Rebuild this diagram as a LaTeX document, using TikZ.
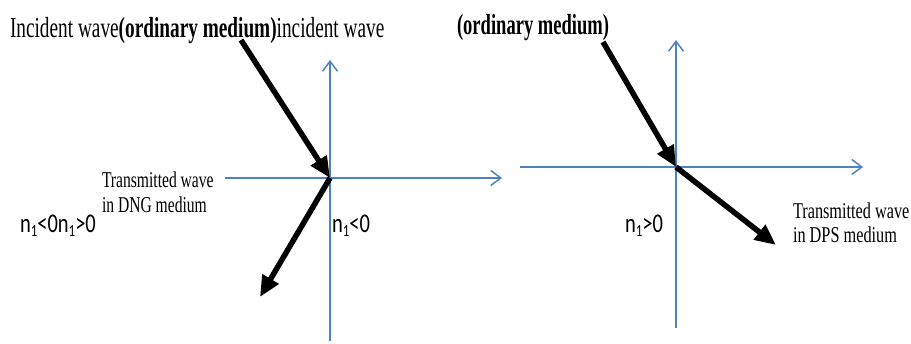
\documentclass[tikz,border=0pt]{standalone}
\usepackage{fontspec}
\setmainfont{Liberation Serif}
\newfontfamily\calib{Carlito}
\usetikzlibrary{arrows.meta}
\definecolor{axisblue}{HTML}{4F81BD}
\newcommand{\nsub}{n\raisebox{-0.18em}{\fontsize{17}{17}\selectfont 1}}
\tikzset{
  axisline/.style={draw=axisblue, line width=1.7pt, -{Straight Barb[length=10pt,width=15pt,line width=1.5pt]}},
  wave/.style={draw=black, line width=5.5pt, -{Triangle[length=21pt,width=18pt]}},
  lbl/.style={inner sep=0pt, outer sep=0pt, anchor=base west},
}
\begin{document}
\begin{tikzpicture}[x=1pt,y=-1pt]
\useasboundingbox (0,0) rectangle (911,343);
% left diagram
\coordinate (O1) at (330,178);
\coordinate (xl1) at (225,178);
\coordinate (xr1) at (502,178);
\coordinate (yb1) at (330,341);
\coordinate (yt1) at (330,60);
\coordinate (inc1) at (241,40);
\coordinate (tr1) at (260,297);
\draw[axisline] (xl1) -- (xr1);
\draw[axisline] (yb1) -- (yt1);
\draw[wave] (inc1) -- (O1);
\draw[wave] (O1) -- (tr1);
% right diagram
\coordinate (O2) at (676,167);
\coordinate (xl2) at (520,167);
\coordinate (xr2) at (863,167);
\coordinate (yb2) at (676,328);
\coordinate (yt2) at (676,40);
\coordinate (inc2) at (603,42);
\coordinate (tr2) at (776,245);
\draw[axisline] (xl2) -- (xr2);
\draw[axisline] (yb2) -- (yt2);
\draw[wave] (inc2) -- (O2);
\draw[wave] (O2) -- (tr2);
% texts
\node[lbl] (title) at (10,37) {\scalebox{0.665}[1]{\fontsize{29}{34}\selectfont Incident wave\textbf{(ordinary medium)}incident wave}};
\node[lbl] (ord2) at (457,34) {\scalebox{0.64}[1]{\fontsize{29}{34}\selectfont\textbf{(ordinary medium)}}};
\node[lbl] (dng) at (102,187) {\scalebox{0.69}[1]{\fontsize{22.6}{25}\selectfont\begin{tabular}[t]{@{}l@{}}Transmitted wave\\ in DNG medium\end{tabular}}};
\node[lbl] (dps) at (793,218) {\scalebox{0.72}[1]{\fontsize{22.6}{24}\selectfont\begin{tabular}[t]{@{}l@{}}Transmitted wave\\ in DPS medium\end{tabular}}};
\node[lbl] (nn) at (20,232) {\scalebox{0.76}[1]{\fontsize{27}{30}\selectfont\calib \nsub<0\nsub>0}};
\node[lbl] (nl) at (332,232) {\scalebox{0.76}[1]{\fontsize{27}{30}\selectfont\calib \nsub<0}};
\node[lbl] (nr) at (625,232) {\scalebox{0.76}[1]{\fontsize{27}{30}\selectfont\calib \nsub>0}};
\end{tikzpicture}
\end{document}
